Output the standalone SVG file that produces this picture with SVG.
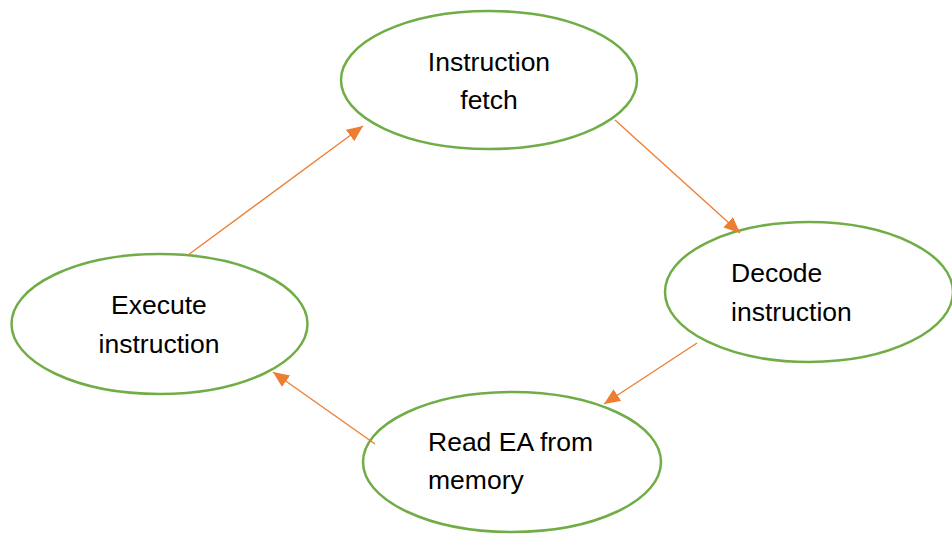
<svg xmlns="http://www.w3.org/2000/svg" width="952" height="534" viewBox="0 0 952 534">
<style>
.node ellipse{fill:#fff;stroke:#70AD47;stroke-width:2.5}
.node text{font-family:"Liberation Sans",Arial,sans-serif;font-size:26.5px;fill:#000}
.c line{stroke:#ED7D31;stroke-width:1.3;fill:none}
</style>
<defs>
<marker id="ah" markerUnits="userSpaceOnUse" markerWidth="18" markerHeight="16" refX="16" refY="7" orient="auto">
<path d="M0,0 L16,7 L0,14 Z" fill="#ED7D31"/>
</marker>
</defs>
<rect width="952" height="534" fill="#fff"/>
<g id="fetch" class="node">
<ellipse cx="489" cy="80" rx="148" ry="69"/>
<text x="489" y="71" text-anchor="middle">Instruction</text>
<text x="489" y="109" text-anchor="middle">fetch</text>
</g>
<g id="decode" class="node">
<ellipse cx="809" cy="292" rx="144" ry="70"/>
<text x="731" y="282">Decode</text>
<text x="731" y="321">instruction</text>
</g>
<g id="read" class="node">
<ellipse cx="512" cy="462" rx="149" ry="70"/>
<text x="428" y="451">Read EA from</text>
<text x="428" y="489">memory</text>
</g>
<g id="execute" class="node">
<ellipse cx="159.5" cy="324" rx="148" ry="70"/>
<text x="159" y="314" text-anchor="middle">Execute</text>
<text x="159" y="353" text-anchor="middle">instruction</text>
</g>
<g id="connectors" class="c">
<line x1="615" y1="120" x2="740" y2="233" marker-end="url(#ah)"/>
<line x1="697" y1="343" x2="604" y2="404" marker-end="url(#ah)"/>
<line x1="375" y1="444" x2="273" y2="372" marker-end="url(#ah)"/>
<line x1="188" y1="255" x2="363" y2="126" marker-end="url(#ah)"/>
</g>
</svg>
